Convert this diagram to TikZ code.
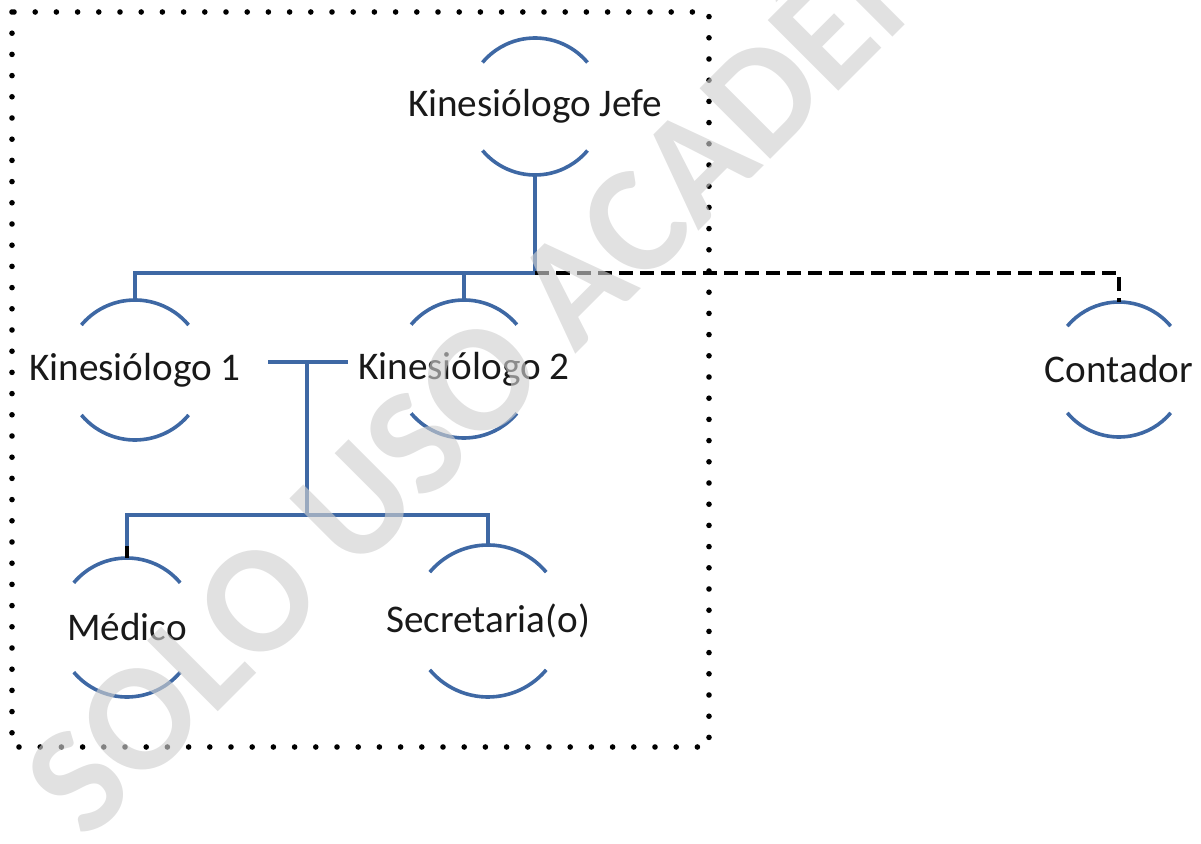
\documentclass[tikz,border=0pt]{standalone}
\usepackage{fontspec}
\setmainfont{Carlito}
\newfontfamily\wmfont{Carlito}
\definecolor{orgblue}{RGB}{62,104,164}
\definecolor{txt}{RGB}{25,25,25}
\definecolor{wmgray}{RGB}{207,207,207}
\begin{document}
\begin{tikzpicture}[x=0.5pt,y=0.5pt,
  person/.style={circle,inner sep=0pt,outer sep=0pt,minimum size=#1},
  persontext/.style={text=txt,inner sep=0pt,font=\fontsize{19.6}{23}\selectfont},
  orgline/.style={draw=orgblue,line width=1.8pt},
  dashline/.style={draw=black,line width=1.9pt,dash pattern=on 7pt off 3.5pt},
  dotborder/.style={draw=black,line width=2.8pt,line cap=round,dash pattern=on 0pt off 10.6pt},
  watermark/.style={rotate=45,anchor=base,inner sep=0pt,text=wmgray,text opacity=0.63,
    font=\wmfont\bfseries\fontsize{77}{82}\selectfont}]
\useasboundingbox (0,0) rectangle (1201,843);

% dotted frame
\draw[dotborder] (12,831) rectangle (709,96);

% people
\node[person=68.5pt,label={[persontext]center:Kinesiólogo Jefe}] (jefe) at (535,736.5) {};
\node[person=70pt,label={[persontext]center:Kinesiólogo 1}]      (k1)   at (135,473) {};
\node[person=69pt,label={[persontext]center:Kinesiólogo 2}]      (k2)   at (464,474) {};
\node[person=67.5pt,label={[persontext]center:Contador}]         (cont) at (1119,473.5) {};
\node[person=69.5pt,label={[persontext]center:Médico}]           (med)  at (127,215.5) {};
\node[person=76pt,label={[persontext]center:Secretaria(o)}]      (sec)  at (488,222) {};

\foreach \n/\r in {jefe/34.25pt,k1/35pt,k2/34.5pt,cont/33.75pt,med/34.75pt,sec/38pt}{
  \draw[orgline] (\n.40) arc[start angle=40,end angle=140,radius=\r]
                 (\n.220) arc[start angle=220,end angle=320,radius=\r];
}

% connectors
\coordinate (j1) at (535,570);
\draw[orgline] (jefe.south) -- (j1);
\draw[orgline] (k1.north) |- (j1);
\draw[orgline] (k2.north) -- (k2.north |- j1);
\draw[dashline] (j1) -| (cont.north);

\coordinate (tl) at (268,481);
\coordinate (tr) at (348,481);
\coordinate (tm) at (307,481);
\coordinate (b2) at (307,328);
\draw[orgline] (tl) -- (tr);
\draw[orgline] (tm) -- (b2);
\draw[orgline] (med.north) |- (b2) -| (sec.north);
\draw[draw=black,line width=1.8pt] (med.north) -- ++(0,12);

% watermark
\node[watermark] (wm) at (614,527) {SOLO USO ACADÉMICO};
\end{tikzpicture}
\end{document}
